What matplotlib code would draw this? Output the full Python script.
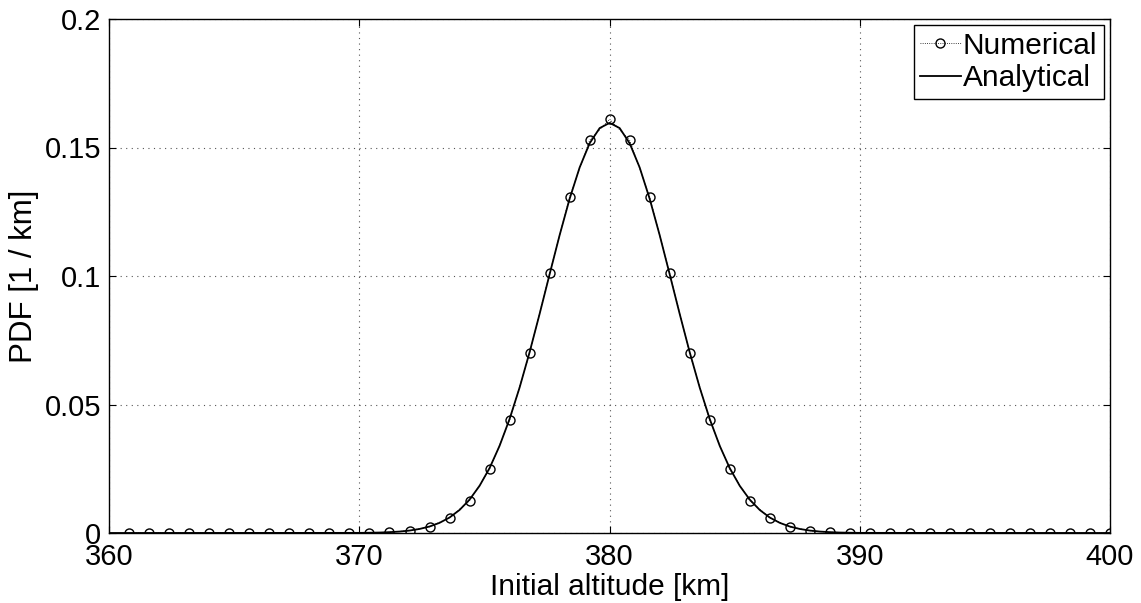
import numpy as np
import matplotlib
matplotlib.use("Agg")
import matplotlib.pyplot as plt

plt.rcParams['font.family'] = ['Liberation Sans', 'DejaVu Sans']

# Numerical samples (x in km, PDF in 1/km)
num_x = np.linspace(360.8, 400.0, 50)
num_y = [0, 0, 0, 0, 0, 0, 0, 0, 0, 0, 0, 0,
         0.0001, 0.0003, 0.0009, 0.0024, 0.0059, 0.0126, 0.0248, 0.0438,
         0.0700, 0.1010, 0.1308, 0.1528, 0.1610, 0.1528, 0.1308, 0.1010,
         0.0700, 0.0438, 0.0248, 0.0126, 0.0059, 0.0024, 0.0009, 0.0003,
         0.0001,
         0, 0, 0, 0, 0, 0, 0, 0, 0, 0, 0, 0, 0]

# Analytical curve
ana_x = [360.0, 370.0, 370.4, 370.8, 371.2, 371.6, 372.0, 372.4, 372.8, 373.2,
         373.6, 374.0, 374.4, 374.8, 375.2, 375.6, 376.0, 376.4, 376.8, 377.2,
         377.6, 378.0, 378.4, 378.8, 379.2, 379.6, 380.0, 380.4, 380.8, 381.2,
         381.6, 382.0, 382.4, 382.8, 383.2, 383.6, 384.0, 384.4, 384.8, 385.2,
         385.6, 386.0, 386.4, 386.8, 387.2, 387.6, 388.0, 388.4, 388.8, 389.2,
         389.6, 390.0, 400.0]
ana_y = [0.0, 0.00005, 0.0001, 0.00018, 0.00033, 0.00056, 0.00095, 0.00157, 0.00252, 0.00395,
         0.00602, 0.00896, 0.01299, 0.01835, 0.02526, 0.03391, 0.04437, 0.05658, 0.07034, 0.08523,
         0.10066, 0.11588, 0.13003, 0.14222, 0.15162, 0.15755, 0.15958, 0.15755, 0.15162, 0.14222,
         0.13003, 0.11588, 0.10066, 0.08523, 0.07034, 0.05658, 0.04437, 0.03391, 0.02526, 0.01835,
         0.01299, 0.00896, 0.00602, 0.00395, 0.00252, 0.00157, 0.00095, 0.00056, 0.00033, 0.00018,
         0.0001, 0.00005, 0.0]

x_ticks = [360, 370, 380, 390, 400]
y_ticks = [0, 0.05, 0.1, 0.15, 0.2]
y_tick_labels = ['0', '0.05', '0.1', '0.15', '0.2']

fig = plt.figure(figsize=(11.41, 6.03), dpi=100)
ax = fig.add_axes([109.3 / 1141, 70 / 603, (1110 - 109.3) / 1141, (533 - 19) / 603])

ax.plot(num_x, num_y, linestyle=':', color='black', linewidth=0.6,
        marker='o', markersize=6.5, markerfacecolor='none',
        markeredgecolor='black', markeredgewidth=1.0, label='Numerical')
ax.plot(ana_x, ana_y, linestyle='-', color='black', linewidth=1.3, label='Analytical')

ax.set_xlim(360, 400)
ax.set_ylim(0, 0.2)
ax.set_xticks(x_ticks)
ax.set_xticklabels([str(t) for t in x_ticks])
ax.set_yticks(y_ticks)
ax.set_yticklabels(y_tick_labels)
ax.tick_params(direction='in', length=5, width=0.8, labelsize=21,
               top=True, right=True)
ax.tick_params(axis='y', pad=6)
ax.tick_params(axis='x', pad=7)
ax.grid(True, linestyle=(0, (1, 4)), color='#555555', linewidth=0.8)
for s in ax.spines.values():
    s.set_linewidth(1.0)
    s.set_color('black')

ax.set_xlabel('Initial altitude [km]', fontsize=21.5, labelpad=1.5)
ax.set_ylabel('PDF [1 / km]', fontsize=22.5, labelpad=4)

leg = ax.legend(loc='upper right', fontsize=21.5, frameon=True, fancybox=False,
                edgecolor='black', framealpha=1, handlelength=1.35,
                handletextpad=0.08, borderpad=0.22, labelspacing=0.15,
                borderaxespad=0.2)
leg.get_frame().set_linewidth(1.0)

fig.savefig('out.png', dpi=100)
